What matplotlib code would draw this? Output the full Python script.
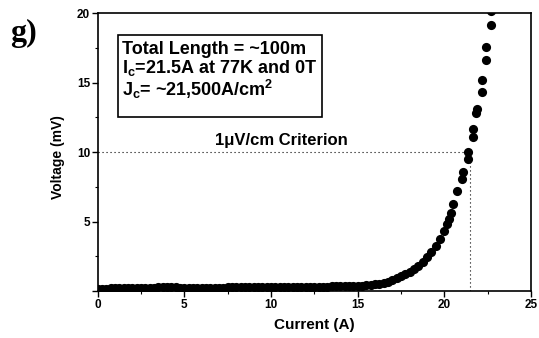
"""
Critical current measurement of a ~100 m conductor (V-I curve, panel g).
"""
import matplotlib
matplotlib.use('Agg')
import matplotlib.pyplot as plt
from matplotlib.patches import Rectangle

# ---------------- Data ----------------
current = [0.0, 0.25, 0.5, 0.75, 1.0, 1.25, 1.5, 1.75, 2.0, 2.25,
           2.5, 2.75, 3.0, 3.25, 3.5, 3.75, 4.0, 4.25, 4.5, 4.75,
           5.0, 5.25, 5.5, 5.75, 6.0, 6.25, 6.5, 6.75, 7.0, 7.25,
           7.5, 7.75, 8.0, 8.25, 8.5, 8.75, 9.0, 9.25, 9.5, 9.75,
           10.0, 10.25, 10.5, 10.75, 11.0, 11.25, 11.5, 11.75, 12.0, 12.25,
           12.5, 12.75, 13.0, 13.25, 13.5, 13.75, 14.0, 14.25, 14.5, 14.75,
           15.0, 15.25, 15.5, 15.75, 16.0, 16.25, 16.5, 16.75, 17.0, 17.25,
           17.5, 17.75, 18.0, 18.25, 18.5, 18.75, 19.0, 19.25, 19.5, 19.75,
           20.0, 20.15, 20.25, 20.4, 20.5, 20.75, 21.0, 21.05, 21.35, 21.35,
           21.64, 21.64, 21.84, 21.87, 22.16, 22.16, 22.4, 22.4, 22.69, 22.69]
voltage = [0.12, 0.15, 0.17, 0.19, 0.2, 0.21, 0.22, 0.23, 0.23, 0.24,
           0.24, 0.24, 0.25, 0.25, 0.26, 0.28, 0.31, 0.29, 0.26, 0.25,
           0.24, 0.24, 0.23, 0.23, 0.23, 0.23, 0.24, 0.24, 0.25, 0.25,
           0.26, 0.26, 0.27, 0.27, 0.28, 0.3, 0.29, 0.27, 0.27, 0.27,
           0.28, 0.28, 0.28, 0.29, 0.29, 0.29, 0.3, 0.3, 0.3, 0.31,
           0.31, 0.31, 0.32, 0.32, 0.33, 0.33, 0.34, 0.34, 0.35, 0.36,
           0.37, 0.39, 0.41, 0.44, 0.47, 0.5, 0.57, 0.66, 0.77, 0.9,
           1.05, 1.22, 1.4, 1.6, 1.83, 2.1, 2.42, 2.8, 3.25, 3.75,
           4.35, 4.8, 5.15, 5.6, 6.27, 7.23, 8.07, 8.55, 9.49, 10.04,
           11.1, 11.67, 12.8, 13.1, 14.36, 15.2, 16.6, 17.6, 19.16, 20.17]

critical_current = 21.5      # A, where the criterion line crosses the curve
criterion_voltage = 10.0     # mV, 1 uV/cm over ~100 m

x_ticks = [0, 5, 10, 15, 20, 25]
y_ticks = [0, 5, 10, 15, 20]
y_tick_labels = ['', '5', '10', '15', '20']

info_lines = ['Total Length = ~100m',
              'I$_{\\mathrm{c}}$=21.5A at 77K and 0T',
              'J$_{\\mathrm{c}}$= ~21,500A/cm$^{\\mathrm{2}}$']
criterion_label = '1\u03bcV/cm Criterion'


def main():
    plt.rcParams['font.family'] = 'Liberation Sans'
    plt.rcParams['font.weight'] = 'bold'
    plt.rcParams['mathtext.fontset'] = 'custom'
    plt.rcParams['mathtext.rm'] = 'Liberation Sans:bold'
    plt.rcParams['mathtext.it'] = 'Liberation Sans:bold'
    plt.rcParams['mathtext.bf'] = 'Liberation Sans:bold'

    fig = plt.figure(figsize=(5.39, 3.38), dpi=100)
    ax = fig.add_axes([0.1813, 0.1391, 0.8039, 0.8216])

    # criterion lines (behind the points)
    ax.plot([0, critical_current - 0.15], [criterion_voltage, criterion_voltage],
            color='black', lw=0.8, linestyle=(0, (1, 2.6)), zorder=1)
    ax.plot([critical_current, critical_current], [0, criterion_voltage],
            color='black', lw=0.8, linestyle=(0, (1, 2.6)), zorder=1)

    # measured V-I points
    ax.plot(current, voltage, 'o', color='black', ms=6.6, mew=0, zorder=3)

    ax.set_xlim(0, 25)
    ax.set_ylim(0, 20)
    ax.set_xticks(x_ticks)
    ax.set_xticks([2.5, 7.5, 12.5, 17.5, 22.5], minor=True)
    ax.set_yticks(y_ticks)
    ax.set_yticklabels(y_tick_labels)
    ax.set_yticks([2.5, 7.5, 12.5, 17.5], minor=True)
    ax.tick_params(which='major', length=4, width=1, labelsize=8.5, pad=1.5)
    ax.tick_params(which='minor', length=2.5, width=0.8)
    for s in ax.spines.values():
        s.set_linewidth(1.2)

    ax.set_xlabel('Current (A)', fontsize=11, fontweight='bold')
    ax.xaxis.set_label_coords(0.5, -0.097)
    ax.set_ylabel('Voltage (mV)', fontsize=10, fontweight='bold')
    ax.yaxis.set_label_coords(-0.075, 0.4825)

    # info box
    ax.add_patch(Rectangle((1.17, 12.55), 11.77, 5.9, fill=False,
                           lw=1.2, edgecolor='black', zorder=2))
    for txt, yb in zip(info_lines, [17.05, 15.68, 14.05]):
        ax.text(1.4, yb, txt, fontsize=13, fontweight='bold', va='baseline')

    ax.text(6.77, 10.5, criterion_label, fontsize=12, fontweight='bold',
            va='baseline')

    fig.text(0.0186, 0.8796, 'g)', fontsize=23, family='Liberation Serif',
             fontweight='bold', va='baseline')

    fig.savefig('out.png', dpi=100)


if __name__ == '__main__':
    main()
